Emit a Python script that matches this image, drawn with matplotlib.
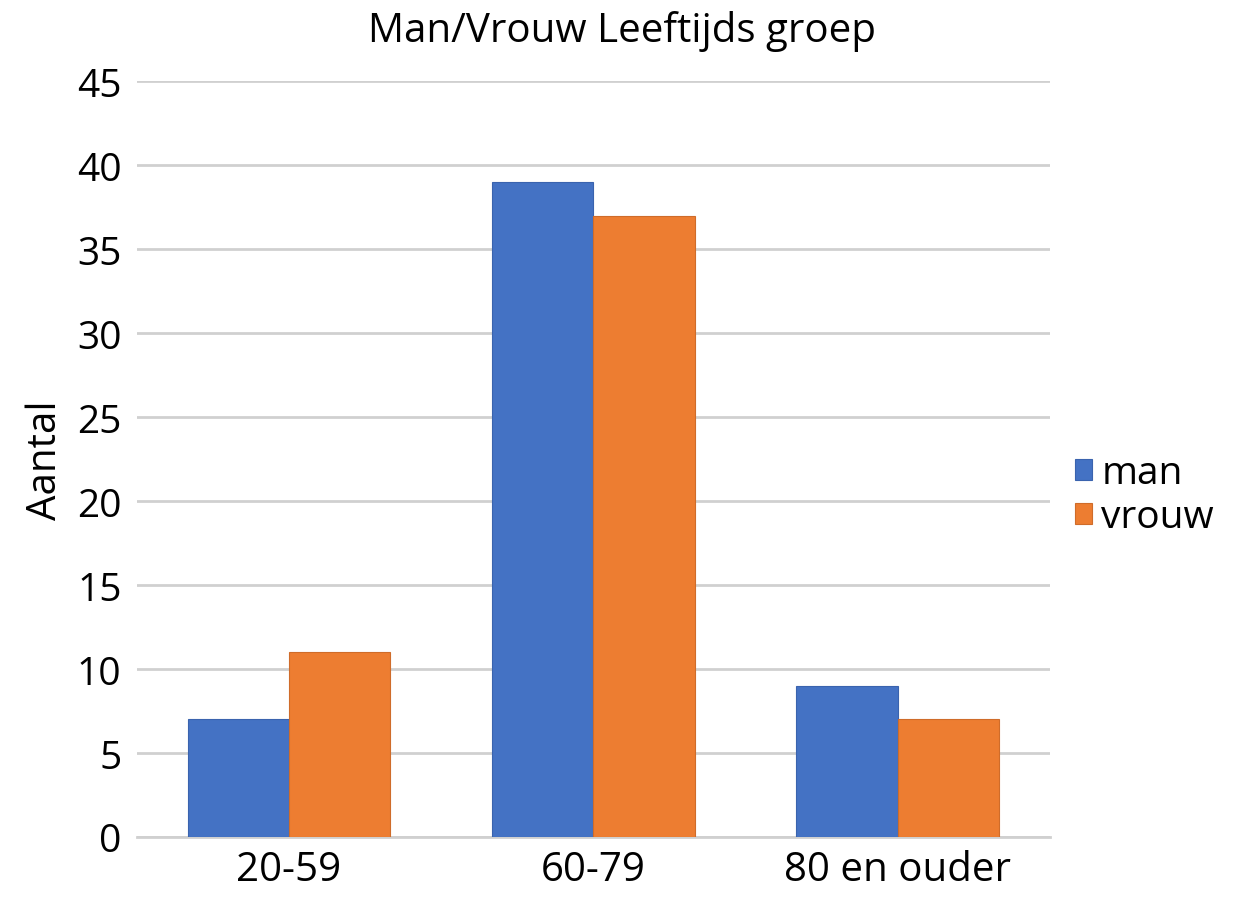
import matplotlib
matplotlib.use("Agg")
import matplotlib.pyplot as plt
import numpy as np

categories = ["20-59", "60-79", "80 en ouder"]
man = [7, 39, 9]
vrouw = [11, 37, 7]
yticks = [0, 5, 10, 15, 20, 25, 30, 35, 40, 45]

plt.rcParams['font.family'] = ['Open Sans', 'DejaVu Sans']

fig = plt.figure(figsize=(12.44, 9.03), dpi=100)
ax = fig.add_axes([0.110, 0.072, 0.734, 0.837])

x = np.arange(len(categories))
w = 1/3
ax.bar(x - w/2, man, width=w, color='#4472C4', edgecolor='#3A63AE', linewidth=0.8, label='man', zorder=3)
ax.bar(x + w/2, vrouw, width=w, color='#ED7D31', edgecolor='#CF6C2A', linewidth=0.8, label='vrouw', zorder=3)

ax.set_xlim(-0.5, 2.5)
ax.set_ylim(0, 45)
ax.set_yticks(yticks)
ax.set_xticks(x)
ax.set_xticklabels(categories, fontsize=29)
ax.tick_params(axis='y', labelsize=28, length=0, pad=11)
ax.tick_params(axis='x', length=0, pad=9)
ax.yaxis.grid(True, color='#D0D0D0', linewidth=2, zorder=0)
for s in ['top', 'right', 'left']:
    ax.spines[s].set_visible(False)
ax.spines['bottom'].set_color('#D0D0D0')
ax.spines['bottom'].set_linewidth(2)

ax.set_ylabel('Aantal', fontsize=29, labelpad=8)
fig.text(0.5, 0.965, 'Man/Vrouw Leeftijds groep', fontsize=29, ha='center', va='center')

leg = ax.legend(loc='center left', bbox_to_anchor=(1.027, 0.452), frameon=False, fontsize=28,
                handlelength=0.46, handleheight=0.46, handletextpad=0.23, labelspacing=0.15,
                borderpad=0, borderaxespad=0)

fig.savefig('out.png', dpi=100)
